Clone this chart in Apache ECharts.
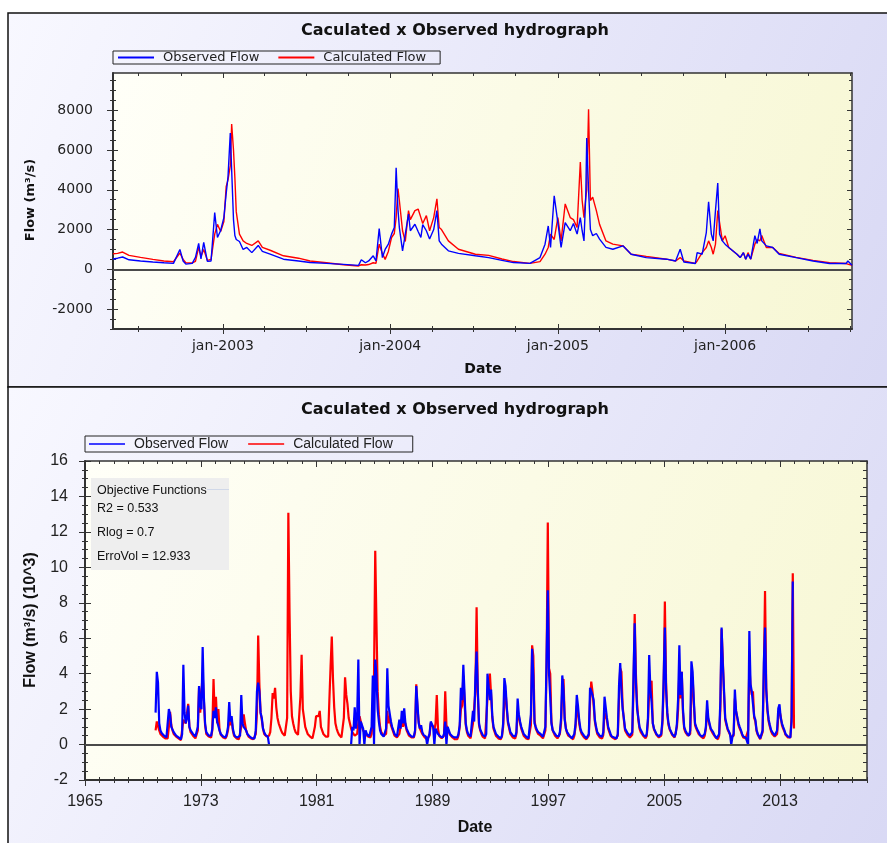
<!DOCTYPE html>
<html>
<head>
<meta charset="utf-8">
<script src="https://cdn.jsdelivr.net/npm/echarts@6/dist/echarts.min.js"></script>
<style>
html,body{margin:0;padding:0;background:#fff;}
#main{width:887px;height:843px;}
</style>
</head>
<body>
<div id="main"></div>
<script>
// upper chart : flow 2002-2006 (m3/s)
var topDates = ['2002-05-06','2002-05-16','2002-05-27','2002-06-10','2002-07-05','2002-08-01','2002-08-25','2002-09-15','2002-09-29','2002-10-06',
  '2002-10-12','2002-10-26','2002-11-02','2002-11-09','2002-11-14','2002-11-20','2002-11-28','2002-12-06','2002-12-14','2002-12-20',
  '2002-12-27','2003-01-03','2003-01-08','2003-01-12','2003-01-17','2003-01-20','2003-01-24','2003-01-27','2003-01-30','2003-02-06',
  '2003-02-14','2003-02-22','2003-03-05','2003-03-19','2003-03-28','2003-04-14','2003-05-13','2003-06-15','2003-07-10','2003-08-15',
  '2003-09-21','2003-10-24','2003-10-30','2003-11-08','2003-11-15','2003-11-25','2003-12-01','2003-12-08','2003-12-15','2003-12-21',
  '2003-12-28','2004-01-04','2004-01-10','2004-01-14','2004-01-18','2004-01-21','2004-01-28','2004-02-03','2004-02-10','2004-02-14',
  '2004-02-24','2004-03-02','2004-03-08','2004-03-12','2004-03-20','2004-03-27','2004-04-05','2004-04-12','2004-04-17','2004-04-22',
  '2004-05-07','2004-05-29','2004-07-05','2004-08-03','2004-09-01','2004-09-26','2004-11-01','2004-11-23','2004-12-04','2004-12-11',
  '2004-12-16','2004-12-24','2005-01-01','2005-01-08','2005-01-17','2005-01-28','2005-02-04','2005-02-12','2005-02-19','2005-02-23',
  '2005-02-27','2005-03-03','2005-03-05','2005-03-09','2005-03-13','2005-03-18','2005-03-26','2005-04-02','2005-04-16','2005-05-01',
  '2005-05-23','2005-06-10','2005-07-13','2005-08-26','2005-09-15','2005-09-25','2005-10-03','2005-10-28','2005-11-01','2005-11-12',
  '2005-11-21','2005-11-26','2005-12-02','2005-12-06','2005-12-11','2005-12-16','2005-12-20','2005-12-26','2006-01-01','2006-01-09',
  '2006-01-27','2006-02-03','2006-02-10','2006-02-15','2006-02-20','2006-02-26','2006-03-07','2006-03-12','2006-03-18','2006-03-22',
  '2006-04-01','2006-04-15','2006-04-29','2006-06-05','2006-07-12','2006-08-17','2006-09-22','2006-09-26','2006-10-05'];
var topObs = [520,560,620,480,420,370,330,300,1000,420,
  260,300,600,1300,520,1350,400,420,2850,1600,
  1950,2600,3800,4640,6850,5000,2500,1700,1500,1400,
  1000,1100,840,1200,900,760,510,420,340,300,
  250,200,480,330,420,680,420,2050,590,1000,
  1265,1770,2100,5100,3000,2100,930,1770,2780,1940,
  2265,1900,1600,2250,1940,1520,2000,2950,1430,1265,
  930,800,680,590,450,340,300,590,1265,2180,
  1100,3700,2350,1100,2350,1940,2300,1770,2600,1940,
  1430,3790,6600,3960,2000,1690,1800,1520,1100,1010,
  1180,760,590,510,420,1010,370,290,840,760,
  1850,3400,1770,1430,2950,4340,1770,1430,1265,1100,
  760,590,840,510,760,510,1690,1300,2030,1430,
  1180,1100,760,590,420,290,290,420,200];
var topCalc = [780,800,870,700,600,500,420,380,820,500,
  330,320,400,1100,650,1000,450,500,1770,2260,
  1900,2400,4150,4500,5200,7300,6000,4600,2900,1770,
  1430,1300,1200,1430,1100,960,680,560,420,330,
  230,170,230,220,240,330,300,1265,800,500,
  900,1600,1800,2600,4060,3460,1940,1400,2950,2500,
  2950,3030,2600,2300,2700,1940,2600,3540,2100,2000,
  1430,1010,760,700,520,390,300,390,760,1100,
  1770,1500,2600,1430,3290,2600,2500,2100,5400,3460,
  2600,3600,4000,8050,3460,3630,2950,2260,1430,1270,
  1180,760,650,510,420,590,420,300,420,840,
  1100,1430,1100,760,1265,2950,2950,1430,1690,1100,
  760,590,840,510,840,510,1265,1500,1430,1700,
  1100,1100,800,600,450,330,290,330,200];

// lower chart : monthly flow 1969-2013 (10^3 m3/s), Jan..Dec per row
var longYears = [1969,1970,1971,1972,1973,1974,1975,1976,1977,1978,1979,1980,1981,1982,1983,1984,1985,1986,1987,1988,1989,
  1990,1991,1992,1993,1994,1995,1996,1997,1998,1999,2000,2001,2002,2003,2004,2005,2006,2007,2008,2009,2010,2011,2012,2013];
var longObs = [
  [null,null,null,null,null,null,null,null,null,null,1.8,4.1],
  [3.5,1.2,0.8,0.65,0.55,0.5,0.45,0.4,0.5,2.0,1.7,1.0],
  [0.9,0.7,0.6,0.5,0.45,0.4,0.3,0.3,0.6,4.5,1.8,1.2],
  [1.5,2.2,1.0,0.8,0.7,0.6,0.5,0.45,0.5,1.0,3.3,2.2],
  [2.0,5.5,2.7,1.2,0.7,0.6,0.5,0.45,0.5,0.9,1.9,1.5],
  [2.1,1.3,1.4,0.8,0.6,0.5,0.45,0.4,0.4,0.6,1.0,2.4],
  [1.3,1.6,0.9,0.6,0.45,0.4,0.4,0.35,0.5,2.8,1.2,1.0],
  [1.0,0.8,0.6,0.5,0.45,0.4,0.35,0.3,0.35,0.8,3.0,3.5],
  [3.0,1.8,1.5,0.9,0.7,0.55,0.5,0.45,0,null,null,null],
  [null,null,null,null,null,null,null,null,null,null,null,null],
  [null,null,null,null,null,null,null,null,null,null,null,null],
  [null,null,null,null,null,null,null,null,null,null,null,null],
  [null,null,null,null,null,null,null,null,null,null,null,null],
  [null,null,null,null,null,null,null,null,null,null,null,null],
  [null,null,null,null,0,1.0,0.8,2.1,0.9,1.5,4.8,0],
  [1.3,1.1,0.9,0,0.8,0.6,0.5,0.45,0.5,1.0,3.9,0],
  [4.8,3.9,2.0,1.3,0.8,0.6,0.5,0.45,0.5,0.9,4.3,2.2],
  [2.2,1.3,1.0,0.8,0.6,0.5,0.45,0.4,1.4,0.9,1.9,1.2],
  [2.05,1.2,0.9,0.8,0.6,0.5,0.45,0.4,0.45,0.8,3.3,2.3],
  [1.2,0.9,1.1,0.7,0.55,0.5,0.45,0,0.4,0.6,1.3,1.2],
  [1.0,0,0.9,1.0,0.6,0.5,0.45,0.4,0.4,0.6,1.3,0],
  [1.0,0.8,0.6,0.5,0.45,0.4,0.4,0.35,0.4,0.6,1.1,3.2],
  [2.5,4.5,2.9,1.2,0.8,0.6,0.5,0.45,0.5,1.9,1.3,3.75],
  [5.25,3.1,1.2,0.85,0.7,0.55,0.45,0.45,0.6,4.0,4.0,2.5],
  [3.1,1.6,1.0,0.8,0.6,0.5,0.45,0.4,0.35,0.5,1.2,3.75],
  [3.3,2.1,1.3,1.0,0.7,0.6,0.5,0.45,0.45,0.7,2.6,1.7],
  [1.3,1.0,0.8,0.6,0.5,0.45,0.4,0.35,0.4,1.7,5.4,3.9],
  [1.2,1.0,0.82,0.7,0.65,0.6,0.5,0.44,0.45,1.0,5.0,8.7],
  [4.0,2.7,1.2,0.82,0.7,0.6,0.5,0.44,0.45,0.7,1.5,3.9],
  [3.1,1.4,0.9,0.7,0.6,0.5,0.45,0.35,0.35,0.6,1.2,2.8],
  [2.2,1.4,0.9,0.7,0.6,0.5,0.4,0.35,0.35,0.6,3.2,3.1],
  [2.8,2.5,1.4,1.0,0.7,0.6,0.5,0.44,0.44,0.7,2.7,2.1],
  [1.5,1.0,0.8,0.6,0.45,0.44,0.4,0.35,0.35,0.6,3.3,4.6],
  [3.1,2.0,1.5,0.9,0.8,0.65,0.6,0.5,0.44,0.7,3.9,6.85],
  [3.5,2.0,1.5,1.0,0.82,0.7,0.55,0.45,0.44,0.6,1.5,5.05],
  [3.1,2.4,1.2,0.9,0.8,0.6,0.5,0.45,0.44,0.6,1.4,3.75],
  [6.6,3.1,1.8,1.2,0.9,0.8,0.6,0.5,0.44,0.6,1.2,2.6],
  [5.6,2.8,4.1,2.0,1.0,0.8,0.65,0.6,0.5,0.8,4.7,4.1],
  [2.5,1.2,1.0,0.82,0.7,0.55,0.5,0.44,0.44,0.6,1.0,2.5],
  [1.5,1.2,0.9,0.82,0.7,0.55,0.45,0.35,0.35,0.6,2.5,6.6],
  [4.6,3.1,1.5,1.2,0.9,0.8,0.6,0,0.44,0.6,3.1,1.9],
  [1.9,1.2,1.0,0.82,0.6,0.45,0.44,0.4,0.44,0,6.4,3.4],
  [3.0,2.9,1.6,1.4,0.82,0.6,0.5,0.35,0.4,0.8,4.6,6.6],
  [3.1,2.0,1.4,1.1,0.82,0.7,0.6,0.5,0.44,0.8,2.05,2.27],
  [1.5,1.2,1.0,0.82,0.6,0.5,0.45,0.44,0.4,1.3,9.2,null]
];
var longCalc = [
  [null,null,null,null,null,null,null,null,null,null,0.8,1.3],
  [1.2,0.8,0.6,0.5,0.45,0.4,0.35,0.3,0.35,1.0,1.85,1.1],
  [0.8,0.6,0.5,0.45,0.4,0.35,0.3,0.25,0.3,1.4,1.3,1.2],
  [1.3,2.3,1.0,0.7,0.6,0.5,0.4,0.35,0.4,0.8,3.2,1.8],
  [1.8,4.0,2.5,1.1,0.6,0.5,0.45,0.4,0.4,0.8,3.7,1.6],
  [2.7,1.2,2.0,0.8,0.55,0.45,0.4,0.35,0.35,0.5,0.8,1.3],
  [1.1,1.4,0.8,0.5,0.4,0.35,0.3,0.3,0.35,1.0,1.2,1.7],
  [1.2,0.8,0.6,0.45,0.4,0.35,0.3,0.3,0.3,0.6,1.8,6.15],
  [3.4,1.8,1.4,0.9,0.6,0.5,0.45,0.4,0.5,0.7,1.5,2.9],
  [2.6,3.2,2.1,1.5,1.2,1.0,0.8,0.65,0.55,0.5,0.6,1.5],
  [13.08,7.4,3.0,1.6,1.2,0.9,0.7,0.6,0.55,0.6,2.7,5.06],
  [2.0,1.5,1.0,0.8,0.6,0.5,0.45,0.4,0.35,0.4,1.0,1.6],
  [1.6,1.6,1.9,1.0,0.8,0.6,0.5,0.45,0.4,0.45,2.5,4.4],
  [6.1,3.7,2.1,1.2,0.9,0.7,0.55,0.45,0.4,0.5,1.5,3.8],
  [2.8,2.3,1.5,1.2,0.9,0.7,0.6,0.5,0.45,0.6,1.2,1.6],
  [1.5,1.0,0.8,0.7,0.6,0.5,0.45,0.4,0.4,0.6,1.4,3.9],
  [10.93,6.9,3.0,1.7,1.0,0.7,0.6,0.5,0.45,0.6,1.9,1.2],
  [1.6,1.1,0.9,0.7,0.5,0.45,0.4,0.35,0.6,0.7,1.4,1.0],
  [1.6,1.1,0.8,0.7,0.5,0.45,0.4,0.35,0.4,0.7,3.4,2.0],
  [1.3,0.9,0.9,0.6,0.5,0.4,0.35,0.3,0.3,0.5,1.2,1.1],
  [1.0,0.8,1.2,2.8,0.9,0.5,0.4,0.35,0.35,0.5,3.0,1.1],
  [0.9,0.7,0.55,0.45,0.4,0.35,0.3,0.3,0.3,0.5,1.0,2.0],
  [2.2,3.9,2.4,1.1,0.7,0.5,0.45,0.35,0.4,1.2,1.1,3.0],
  [7.75,2.8,1.1,0.8,0.6,0.45,0.4,0.35,0.4,2.6,3.5,4.0],
  [2.8,1.5,0.9,0.7,0.5,0.4,0.35,0.3,0.3,0.45,1.0,2.5],
  [3.0,2.0,1.2,0.9,0.6,0.5,0.4,0.35,0.35,0.6,1.9,1.6],
  [1.2,0.9,0.7,0.5,0.4,0.35,0.3,0.3,0.3,1.1,5.6,5.0],
  [1.4,0.9,0.75,0.6,0.55,0.5,0.4,0.35,0.35,0.8,4.5,12.53],
  [4.3,4.0,1.3,0.8,0.65,0.5,0.4,0.35,0.35,0.6,1.2,3.2],
  [3.7,1.5,0.9,0.65,0.5,0.45,0.4,0.3,0.3,0.5,1.0,2.2],
  [1.8,1.2,0.8,0.6,0.5,0.4,0.35,0.3,0.3,0.5,2.4,3.55],
  [3.0,2.2,1.3,0.9,0.6,0.5,0.4,0.35,0.35,0.55,1.8,1.9],
  [1.4,0.9,0.7,0.5,0.4,0.38,0.35,0.3,0.3,0.5,2.5,4.3],
  [4.1,2.2,1.4,0.8,0.7,0.55,0.5,0.4,0.35,0.55,3.0,7.37],
  [4.0,2.3,1.4,0.9,0.7,0.6,0.5,0.4,0.35,0.5,1.3,3.0],
  [3.0,3.6,1.2,0.85,0.7,0.55,0.45,0.4,0.35,0.5,1.2,3.2],
  [8.07,3.5,1.7,1.1,0.85,0.7,0.55,0.45,0.4,0.5,1.0,2.0],
  [4.1,2.6,4.1,1.8,0.9,0.7,0.6,0.5,0.45,0.6,3.0,3.8],
  [2.3,1.1,0.9,0.75,0.6,0.5,0.45,0.4,0.35,0.5,0.9,2.0],
  [1.4,1.1,0.85,0.75,0.6,0.5,0.4,0.3,0.3,0.5,2.0,6.5],
  [4.8,2.9,1.4,1.1,0.85,0.7,0.55,0.4,0.4,0.5,2.6,1.9],
  [1.8,1.1,0.9,0.75,0.55,0.4,0.4,0.35,0.4,0.8,4.5,3.3],
  [2.8,3.0,1.5,1.3,0.75,0.55,0.45,0.3,0.35,0.7,3.8,8.67],
  [3.2,1.9,1.3,1.0,0.75,0.6,0.5,0.45,0.4,0.6,1.6,1.9],
  [1.6,1.1,0.9,0.75,0.55,0.45,0.4,0.4,0.4,1.6,9.67,0.9]
];

// tick labels
var topYLabels = [-2000, 0, 2000, 4000, 6000, 8000];
var topXLabels = ['2003-01-01', '2004-01-01', '2005-01-01', '2006-01-01'];
var longYLabels = [-2, 0, 2, 4, 6, 8, 10, 12, 14, 16];
var longXLabels = [1965, 1973, 1981, 1989, 1997, 2005, 2013];

function ts(s) {
    var p = s.split('-');
    return Date.UTC(+p[0], +p[1] - 1, +p[2]);
}

var tMin = ts('2002-05-06'), tMax = ts('2006-10-05');
var topYMin = -3000, topYMax = 9870;
var longXMin = 1965, longXMax = 2019, longYMin = -2, longYMax = 16;

// tick positions
var topXMajor = topXLabels.map(ts);
var topXMinor = [];
for (var y = 2002; y <= 2006; y++) {
    for (var m = 0; m < 12; m += 3) {
        var t = Date.UTC(y, m, 1);
        if (t >= tMin && t <= tMax) topXMinor.push(t);
    }
}
var topYMinor = [];
for (var v = -3000; v <= 9500; v += 500) topYMinor.push(v);
var longXMinor = [];
for (var yr = longXMin; yr <= longXMax; yr++) longXMinor.push(yr);
var longYMinor = [];
for (var k = 0; k <= 36; k++) longYMinor.push(longYMin + k * 0.5);

function tickAxis(grid, pos, min, max, vals, len, inside, line) {
    return {
        type: 'value', gridIndex: grid, position: pos, min: min, max: max,
        axisLine: { show: !!line, onZero: false, lineStyle: { color: '#333', width: 1.5 } },
        axisTick: { show: true, inside: inside, length: len, customValues: vals, lineStyle: { color: '#333', width: 1 } },
        axisLabel: { show: false },
        splitLine: { show: false }
    };
}

var topLabelFont = { fontFamily: 'DejaVu Sans', fontSize: 14, color: '#222' };
var longLabelFont = { fontFamily: 'Liberation Sans', fontSize: 16, color: '#222' };

// x axes
var tx0 = tickAxis(0, 'bottom', tMin, tMax, topXMinor, 3, false, true);
tx0.axisLine.lineStyle.width = 2;
tx0.axisLabel = Object.assign({
    show: true, customValues: topXMajor, margin: 10,
    formatter: function (val) { return 'jan-' + new Date(val).getUTCFullYear(); }
}, topLabelFont);
var bx0 = tickAxis(1, 'bottom', longXMin, longXMax, longXMinor, 3, false, true);
bx0.axisLine.lineStyle.width = 2;
bx0.axisLabel = Object.assign({
    show: true, customValues: longXLabels, margin: 14,
    formatter: function (val) { return String(val); }
}, longLabelFont);

var xAxes = [
    tx0,
    tickAxis(0, 'bottom', tMin, tMax, topXMinor, 3, true),
    tickAxis(0, 'bottom', tMin, tMax, topXMajor, 5, false),
    tickAxis(0, 'bottom', tMin, tMax, topXMajor, 5, true),
    tickAxis(0, 'top', tMin, tMax, topXMinor, 3, true, true),
    tickAxis(0, 'top', tMin, tMax, topXMajor, 5, true),
    bx0,
    tickAxis(1, 'bottom', longXMin, longXMax, longXMinor, 3, true),
    tickAxis(1, 'bottom', longXMin, longXMax, longXLabels, 6, false),
    tickAxis(1, 'bottom', longXMin, longXMax, longXLabels, 6, true),
    tickAxis(1, 'top', longXMin, longXMax, longXMinor, 3, true, true),
    tickAxis(1, 'top', longXMin, longXMax, longXLabels, 6, true)
];

// y axes
var ty0 = tickAxis(0, 'left', topYMin, topYMax, topYMinor, 3, false, true);
ty0.axisLine.lineStyle.width = 2;
ty0.axisLabel = Object.assign({
    show: true, customValues: topYLabels, margin: 20,
    formatter: function (val) { return String(val); }
}, topLabelFont);
var by0 = tickAxis(1, 'left', longYMin, longYMax, longYMinor, 3, false, true);
by0.axisLine.lineStyle.width = 2;
by0.axisLabel = Object.assign({
    show: true, customValues: longYLabels, margin: 17,
    formatter: function (val) { return String(val); }
}, longLabelFont);

var yAxes = [
    ty0,
    tickAxis(0, 'left', topYMin, topYMax, topYMinor, 3, true),
    tickAxis(0, 'left', topYMin, topYMax, topYLabels, 6, false),
    tickAxis(0, 'left', topYMin, topYMax, topYLabels, 5, true),
    tickAxis(0, 'right', topYMin, topYMax, topYMinor, 3, true, true),
    tickAxis(0, 'right', topYMin, topYMax, topYLabels, 5, true),
    by0,
    tickAxis(1, 'left', longYMin, longYMax, longYMinor, 3, true),
    tickAxis(1, 'left', longYMin, longYMax, longYLabels, 6, false),
    tickAxis(1, 'left', longYMin, longYMax, longYLabels, 6, true),
    tickAxis(1, 'right', longYMin, longYMax, longYMinor, 4, true, true),
    tickAxis(1, 'right', longYMin, longYMax, longYLabels, 7, true)
];

function topData(vals) {
    return topDates.map(function (d, i) { return [ts(d), vals[i]]; });
}
function longData(rows) {
    var out = [];
    for (var i = 0; i < longYears.length; i++) {
        for (var mm = 0; mm < 12; mm++) {
            var val = rows[i][mm];
            out.push([longYears[i] + (mm + 0.5) / 12, val === null ? '-' : val]);
        }
    }
    return out;
}

var zeroLine = {
    silent: true, symbol: 'none', label: { show: false },
    lineStyle: { color: '#4a4a4a', width: 2, type: 'solid' },
    data: [{ yAxis: 0 }]
};

var plotBg = new echarts.graphic.LinearGradient(0, 0, 1, 1, [
    { offset: 0, color: '#fffff8' },
    { offset: 1, color: '#f7f7d4' }
]);
function panelBg() {
    return new echarts.graphic.LinearGradient(0, 0, 1, 1, [
        { offset: 0, color: '#f8f8ff' },
        { offset: 1, color: '#d8d8f4' }
    ]);
}

var dom = document.getElementById('main');
var myChart = echarts.init(dom);

var option = {
    animation: false,
    backgroundColor: '#ffffff',
    grid: [
        { left: 113, top: 73, width: 739, height: 256, show: true, backgroundColor: plotBg, borderWidth: 0, containLabel: false, outerBoundsMode: 'none' },
        { left: 85, top: 461, width: 782, height: 319, show: true, backgroundColor: plotBg, borderWidth: 0, containLabel: false, outerBoundsMode: 'none' }
    ],
    legend: [
        {
            left: 113, top: 51, padding: [0, 14, 0, 5], itemWidth: 36, itemHeight: 2, itemGap: 19, icon: 'rect',
            borderColor: '#222', borderWidth: 1, data: ['Observed Flow', 'Calculated Flow'],
            textStyle: { fontFamily: 'DejaVu Sans', fontSize: 13, color: '#222', padding: [0, 4, 0, 4] }
        },
        {
            left: 85, top: 436, padding: [1, 20, 1, 4], itemWidth: 36, itemHeight: 1.5, itemGap: 20, icon: 'rect',
            borderColor: '#222', borderWidth: 1, data: ['Observed Flow', 'Calculated Flow'],
            textStyle: { fontFamily: 'Liberation Sans', fontSize: 14, color: '#222', padding: [0, 4, 0, 4] }
        }
    ],
    xAxis: xAxes,
    yAxis: yAxes,
    graphic: [
        { type: 'rect', z: -10, shape: { x: 8, y: 13, width: 900, height: 374 }, style: { fill: panelBg(), stroke: '#111', lineWidth: 1.5 } },
        { type: 'rect', z: -10, shape: { x: 8, y: 387, width: 900, height: 470 }, style: { fill: panelBg(), stroke: '#111', lineWidth: 1.5 } },
        { type: 'text', z: 10, x: 455, y: 31, style: { text: 'Caculated x Observed hydrograph', font: 'bold 16px "DejaVu Sans"', fill: '#111', align: 'center', verticalAlign: 'middle' } },
        { type: 'text', z: 10, x: 455, y: 410, style: { text: 'Caculated x Observed hydrograph', font: 'bold 16px "DejaVu Sans"', fill: '#111', align: 'center', verticalAlign: 'middle' } },
        { type: 'text', z: 10, x: 483, y: 369, style: { text: 'Date', font: 'bold 14px "DejaVu Sans"', fill: '#111', align: 'center', verticalAlign: 'middle' } },
        { type: 'text', z: 10, x: 475, y: 828, style: { text: 'Date', font: 'bold 16px "Liberation Sans"', fill: '#111', align: 'center', verticalAlign: 'middle' } },
        { type: 'text', z: 10, x: 31, y: 200, rotation: Math.PI / 2, style: { text: 'Flow (m³/s)', font: 'bold 13px "DejaVu Sans"', fill: '#111', align: 'center', verticalAlign: 'middle' } },
        { type: 'text', z: 10, x: 31, y: 620, rotation: Math.PI / 2, style: { text: 'Flow (m³/s) (10^3)', font: 'bold 16px "Liberation Sans"', fill: '#111', align: 'center', verticalAlign: 'middle' } },
        // objective functions box
        { type: 'rect', z: 5, shape: { x: 91, y: 478, width: 138, height: 92 }, style: { fill: '#eeeeee' } },
        { type: 'line', z: 6, shape: { x1: 207, y1: 489.5, x2: 229, y2: 489.5 }, style: { stroke: '#d0d8e8', lineWidth: 1 } },
        { type: 'text', z: 10, x: 97, y: 491, style: { text: 'Objective Functions', font: '12.5px "Liberation Sans"', fill: '#111', verticalAlign: 'middle' } },
        { type: 'text', z: 10, x: 97, y: 509, style: { text: 'R2 = 0.533', font: '12.5px "Liberation Sans"', fill: '#111', verticalAlign: 'middle' } },
        { type: 'text', z: 10, x: 97, y: 533, style: { text: 'Rlog = 0.7', font: '12.5px "Liberation Sans"', fill: '#111', verticalAlign: 'middle' } },
        { type: 'text', z: 10, x: 97, y: 557, style: { text: 'ErroVol = 12.933', font: '12.5px "Liberation Sans"', fill: '#111', verticalAlign: 'middle' } }
    ],
    series: [
        {
            name: 'Calculated Flow', type: 'line', xAxisIndex: 0, yAxisIndex: 0, color: '#ff0000',
            showSymbol: false, symbol: 'none', lineStyle: { width: 1.4 }, data: topData(topCalc),
            markLine: zeroLine
        },
        {
            name: 'Observed Flow', type: 'line', xAxisIndex: 0, yAxisIndex: 0, color: '#0000ff',
            showSymbol: false, symbol: 'none', lineStyle: { width: 1.4 }, data: topData(topObs)
        },
        {
            name: 'Calculated Flow', type: 'line', xAxisIndex: 6, yAxisIndex: 6, color: '#ff0000',
            showSymbol: false, symbol: 'none', lineStyle: { width: 2.2 }, data: longData(longCalc),
            markLine: zeroLine
        },
        {
            name: 'Observed Flow', type: 'line', xAxisIndex: 6, yAxisIndex: 6, color: '#0000ff',
            showSymbol: false, symbol: 'none', lineStyle: { width: 2.2 }, data: longData(longObs)
        }
    ]
};

if (option && typeof option === "object") {
    myChart.setOption(option, true);
}
</script>
</body>
</html>
